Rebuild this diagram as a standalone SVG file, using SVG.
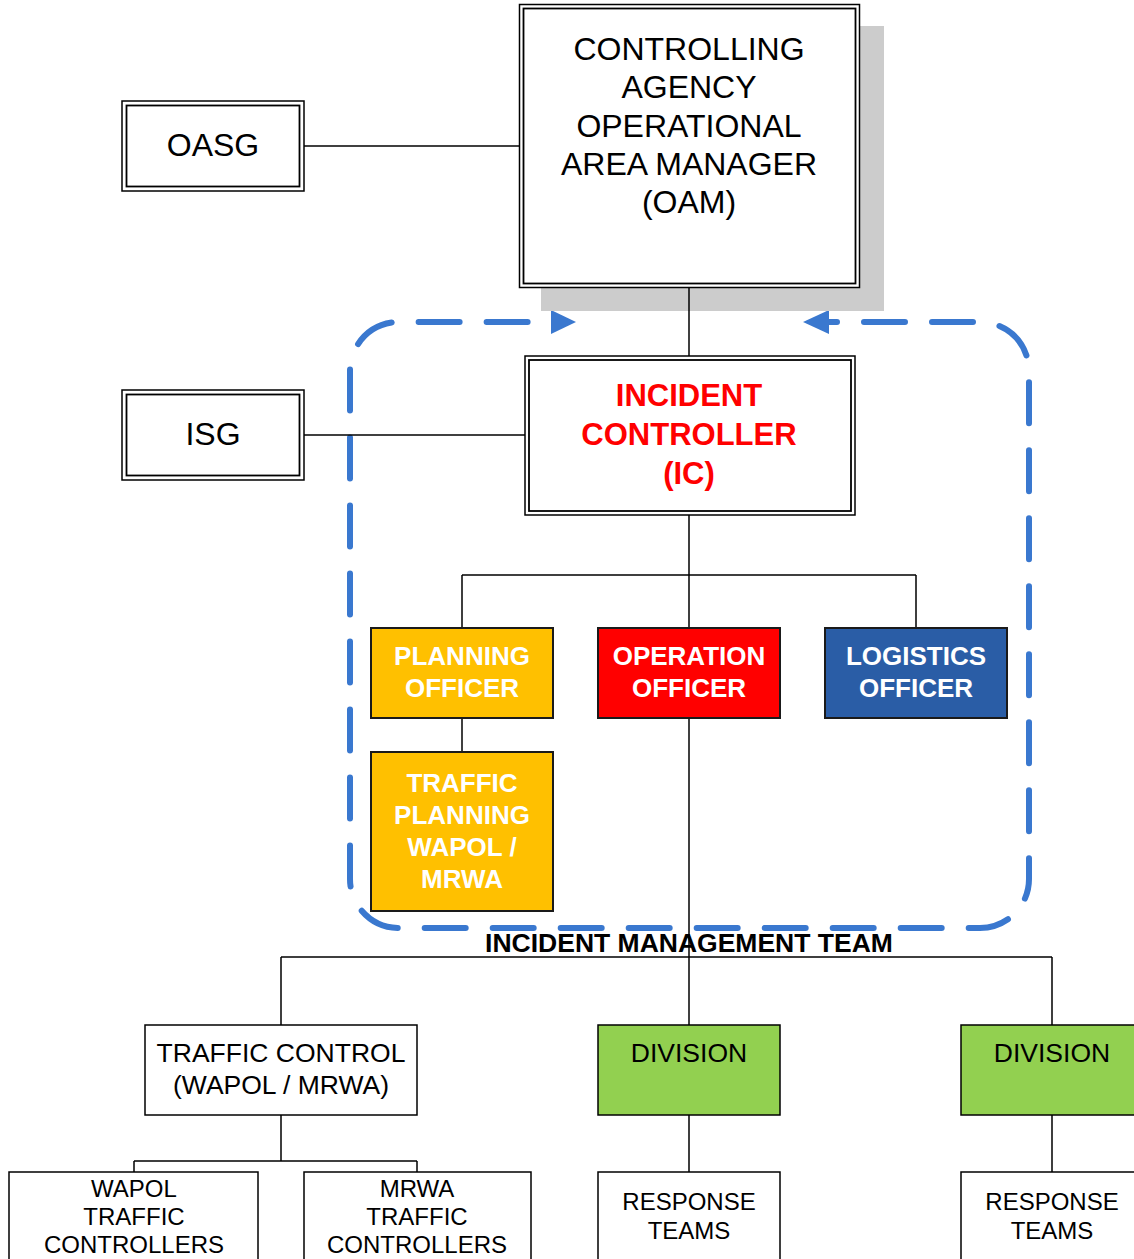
<svg xmlns="http://www.w3.org/2000/svg" width="1134" height="1259" viewBox="0 0 1134 1259">
<style>
text{font-family:"Liberation Sans",Arial,sans-serif;text-anchor:middle;fill:#000}
.big{font-size:32px}
.ic{font-size:31px;font-weight:bold;fill:#FF0000}
.off{font-size:26px;font-weight:bold;fill:#FFFFFF}
.mid{font-size:26.5px}
.sm{font-size:24px}
.title{font-size:26.5px;font-weight:bold}
.box{fill:#FFFFFF;stroke:#000;stroke-width:1.5}
.div{fill:#92D050;stroke:#000;stroke-width:1.5}
.dbl{fill:none;stroke:#000;stroke-width:1.8}
.cbox{stroke:#1a1a1a;stroke-width:2}
.conn{fill:none;stroke:#000;stroke-width:1.5}
.imt{fill:none;stroke:#3A78CF;stroke-width:6;stroke-linecap:round;stroke-dasharray:41 27;stroke-dashoffset:32}
.ah{fill:#3A78CF}
</style>
<rect x="0" y="0" width="1134" height="1259" fill="#FFFFFF"/>
<g id="imt-boundary">
<path class="imt" d="M828 322 H980 A49 49 0 0 1 1029 371 V879 A49 49 0 0 1 980 928 H399 A49 49 0 0 1 350 879 V371 A49 49 0 0 1 399 322 H552"/>
<polygon class="ah" points="551,310 576,322 551,334"/>
<polygon class="ah" points="829,310 803,322 829,334"/>
</g>
<g id="oam">
<rect x="541" y="26" width="343" height="285" fill="#CCCCCC"/>
<rect x="519.5" y="4.5" width="340" height="283" class="box" stroke-width="2"/>
<rect x="523.5" y="8.5" width="332" height="275" class="dbl"/>
<text class="big" x="689" y="60">CONTROLLING</text>
<text class="big" x="689" y="98">AGENCY</text>
<text class="big" x="689" y="137">OPERATIONAL</text>
<text class="big" x="689" y="175">AREA MANAGER</text>
<text class="big" x="689" y="213">(OAM)</text>
</g>
<g id="connectors">
<path class="conn" d="M304 146 H519"/>
<path class="conn" d="M304 435 H525"/>
<path class="conn" d="M689 288 V356"/>
<path class="conn" d="M689 515 V628 M462 575 H916 M462 575 V628 M916 575 V628"/>
<path class="conn" d="M462 718 V752"/>
<path class="conn" d="M689 718 V1025"/>
<path class="conn" d="M281 957 H1052 M281 957 V1025 M1052 957 V1025"/>
<path class="conn" stroke-width="2" d="M281 1115 V1161 M134 1161 H417 M134 1161 V1172 M417 1161 V1172"/>
<path class="conn" d="M689 1115 V1172 M1052 1115 V1172"/>
</g>
<g id="oasg">
<rect x="122" y="101" width="182" height="90" class="box"/>
<rect x="126.5" y="105.5" width="173" height="81" class="dbl"/>
<text class="big" x="213" y="156">OASG</text>
</g>
<g id="isg">
<rect x="122" y="390" width="182" height="90" class="box"/>
<rect x="126.5" y="394.5" width="173" height="81" class="dbl"/>
<text class="big" x="213" y="445">ISG</text>
</g>
<g id="ic">
<rect x="525" y="356" width="330" height="159" class="box"/>
<rect x="529" y="360" width="322" height="151" class="dbl"/>
<text class="ic" x="689" y="406">INCIDENT</text>
<text class="ic" x="689" y="445">CONTROLLER</text>
<text class="ic" x="689" y="484">(IC)</text>
</g>
<g id="planning-officer">
<rect x="371" y="628" width="182" height="90" fill="#FFC000" class="cbox"/>
<text class="off" x="462" y="665">PLANNING</text>
<text class="off" x="462" y="697">OFFICER</text>
</g>
<g id="operation-officer">
<rect x="598" y="628" width="182" height="90" fill="#FF0000" class="cbox"/>
<text class="off" x="689" y="665">OPERATION</text>
<text class="off" x="689" y="697">OFFICER</text>
</g>
<g id="logistics-officer">
<rect x="825" y="628" width="182" height="90" fill="#2A5DA6" class="cbox"/>
<text class="off" x="916" y="665">LOGISTICS</text>
<text class="off" x="916" y="697">OFFICER</text>
</g>
<g id="traffic-planning">
<rect x="371" y="752" width="182" height="159" fill="#FFC000" class="cbox"/>
<text class="off" x="462" y="792">TRAFFIC</text>
<text class="off" x="462" y="824">PLANNING</text>
<text class="off" x="462" y="856">WAPOL /</text>
<text class="off" x="462" y="888">MRWA</text>
</g>
<g id="imt-label">
<text class="title" x="689" y="952">INCIDENT MANAGEMENT TEAM</text>
</g>
<g id="traffic-control">
<rect x="145" y="1025" width="272" height="90" class="box"/>
<text class="mid" x="281" y="1062">TRAFFIC CONTROL</text>
<text class="mid" x="281" y="1094">(WAPOL / MRWA)</text>
</g>
<g id="division-1">
<rect x="598" y="1025" width="182" height="90" class="div"/>
<text class="mid" x="689" y="1062">DIVISION</text>
</g>
<g id="division-2">
<rect x="961" y="1025" width="182" height="90" class="div"/>
<text class="mid" x="1052" y="1062">DIVISION</text>
</g>
<g id="wapol-tc">
<rect x="9" y="1172" width="249" height="100" class="box"/>
<text class="sm" x="134" y="1197">WAPOL</text>
<text class="sm" x="134" y="1225">TRAFFIC</text>
<text class="sm" x="134" y="1253">CONTROLLERS</text>
</g>
<g id="mrwa-tc">
<rect x="304" y="1172" width="227" height="100" class="box"/>
<text class="sm" x="417" y="1197">MRWA</text>
<text class="sm" x="417" y="1225">TRAFFIC</text>
<text class="sm" x="417" y="1253">CONTROLLERS</text>
</g>
<g id="response-1">
<rect x="598" y="1172" width="182" height="100" class="box"/>
<text class="sm" x="689" y="1210">RESPONSE</text>
<text class="sm" x="689" y="1239">TEAMS</text>
</g>
<g id="response-2">
<rect x="961" y="1172" width="182" height="100" class="box"/>
<text class="sm" x="1052" y="1210">RESPONSE</text>
<text class="sm" x="1052" y="1239">TEAMS</text>
</g>
</svg>
